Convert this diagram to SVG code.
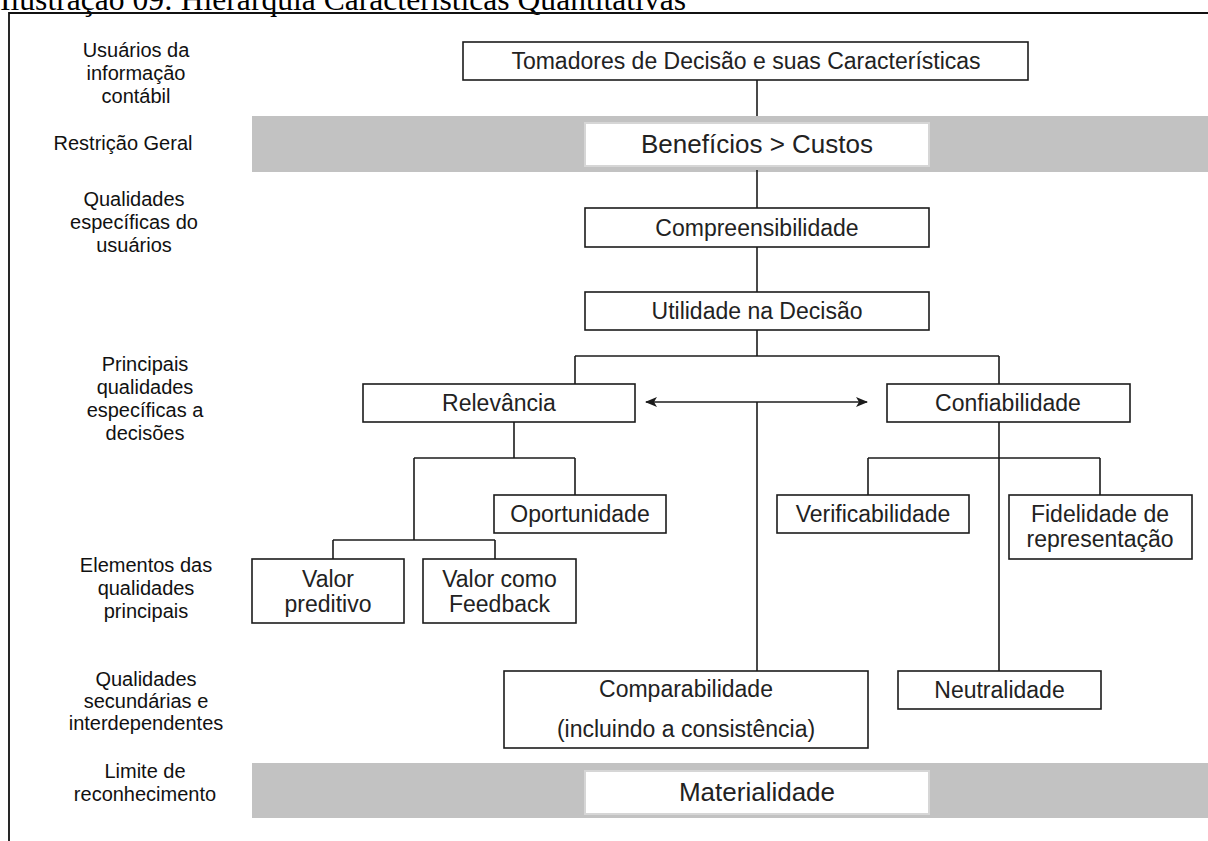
<svg xmlns="http://www.w3.org/2000/svg" width="1208" height="841" viewBox="0 0 1208 841">
<defs>
<style>
.box{fill:#fff;stroke:#1c1c1c;stroke-width:1.6}
.band{fill:#c2c2c2}
.inner{fill:#fff;stroke:#d6d6d6;stroke-width:2}
.t{font-family:"Liberation Sans",Arial,sans-serif;font-size:23px;fill:#222;text-anchor:middle}
.bt{font-family:"Liberation Sans",Arial,sans-serif;font-size:26px;fill:#222;text-anchor:middle}
.lab{font-family:"Liberation Sans",Arial,sans-serif;font-size:20px;fill:#111;text-anchor:middle}
.c{fill:none;stroke:#1c1c1c;stroke-width:1.6}
</style>
<marker id="ah" markerWidth="12" markerHeight="10" refX="11" refY="5" orient="auto-start-reverse" markerUnits="userSpaceOnUse">
<path d="M0,0 L12,5 L0,10 L3,5 Z" fill="#1c1c1c"/>
</marker>
</defs>
<rect width="1208" height="841" fill="#fff"/>
<text x="0" y="10" font-family="Liberation Serif,'Times New Roman',serif" font-size="31.6" fill="#000">Ilustração 09: Hierarquia Características Quantitativas</text>
<path d="M9,841 V13 H1208" fill="none" stroke="#111" stroke-width="1.8"/>

<g id="labels">
<text class="lab" x="136" y="57">Usuários da</text>
<text class="lab" x="136" y="80">informação</text>
<text class="lab" x="136" y="103">contábil</text>
<text class="lab" x="123" y="150">Restrição Geral</text>
<text class="lab" x="134" y="206">Qualidades</text>
<text class="lab" x="134" y="229">específicas do</text>
<text class="lab" x="134" y="252">usuários</text>
<text class="lab" x="145" y="371">Principais</text>
<text class="lab" x="145" y="394">qualidades</text>
<text class="lab" x="145" y="417">específicas a</text>
<text class="lab" x="145" y="440">decisões</text>
<text class="lab" x="146" y="572">Elementos das</text>
<text class="lab" x="146" y="595">qualidades</text>
<text class="lab" x="146" y="618">principais</text>
<text class="lab" x="146" y="686">Qualidades</text>
<text class="lab" x="146" y="708">secundárias e</text>
<text class="lab" x="146" y="730">interdependentes</text>
<text class="lab" x="145" y="778">Limite de</text>
<text class="lab" x="145" y="801">reconhecimento</text>
</g>

<g id="band1">
<rect class="band" x="252" y="116" width="956" height="56"/>
<rect class="inner" x="585" y="123" width="344" height="43"/>
<text class="bt" x="757" y="153">Benefícios &gt; Custos</text>
</g>
<g id="band2">
<rect class="band" x="252" y="763" width="956" height="55"/>
<rect class="inner" x="585" y="771" width="344" height="43"/>
<text class="bt" x="757" y="801">Materialidade</text>
</g>

<g id="connectors">
<path class="c" d="M757,80 V116"/>
<path class="c" d="M757,170 V208"/>
<path class="c" d="M757,247 V292"/>
<path class="c" d="M757,330 V356 M575,356 H999 M575,356 V384 M999,356 V384"/>
<path class="c" d="M514,422 V458 M414,458 H575 M575,458 V495 M414,458 V540 M333,540 H495 M333,540 V559 M495,540 V559"/>
<path class="c" d="M999,422 V671 M868,458 H1100 M868,458 V495 M1100,458 V495"/>
<path class="c" d="M757,402 V671"/>
<path class="c" d="M646,402 H867" marker-start="url(#ah)" marker-end="url(#ah)"/>
</g>

<g id="n-tomadores"><rect class="box" x="463" y="42" width="565" height="38"/><text class="t" x="746" y="68.5">Tomadores de Decisão e suas Características</text></g>
<g id="n-compreensibilidade"><rect class="box" x="585" y="208" width="344" height="39"/><text class="t" x="757" y="236">Compreensibilidade</text></g>
<g id="n-utilidade"><rect class="box" x="585" y="292" width="344" height="38"/><text class="t" x="757" y="319">Utilidade na Decisão</text></g>
<g id="n-relevancia"><rect class="box" x="363" y="384" width="272" height="38"/><text class="t" x="499" y="411">Relevância</text></g>
<g id="n-confiabilidade"><rect class="box" x="887" y="384" width="243" height="38"/><text class="t" x="1008" y="411">Confiabilidade</text></g>
<g id="n-oportunidade"><rect class="box" x="494" y="495" width="172" height="38"/><text class="t" x="580" y="522">Oportunidade</text></g>
<g id="n-verificabilidade"><rect class="box" x="777" y="495" width="192" height="38"/><text class="t" x="873" y="522">Verificabilidade</text></g>
<g id="n-fidelidade"><rect class="box" x="1009" y="495" width="183" height="64"/><text class="t" x="1100" y="522">Fidelidade de</text><text class="t" x="1100" y="547">representação</text></g>
<g id="n-preditivo"><rect class="box" x="252" y="559" width="152" height="64"/><text class="t" x="328" y="587">Valor</text><text class="t" x="328" y="612">preditivo</text></g>
<g id="n-feedback"><rect class="box" x="423" y="559" width="153" height="64"/><text class="t" x="499.5" y="587">Valor como</text><text class="t" x="499.5" y="612">Feedback</text></g>
<g id="n-comparabilidade"><rect class="box" x="504" y="671" width="364" height="77"/><text class="t" x="686" y="697">Comparabilidade</text><text class="t" x="686" y="737">(incluindo a consistência)</text></g>
<g id="n-neutralidade"><rect class="box" x="898" y="671" width="203" height="38"/><text class="t" x="999.5" y="698">Neutralidade</text></g>
</svg>
